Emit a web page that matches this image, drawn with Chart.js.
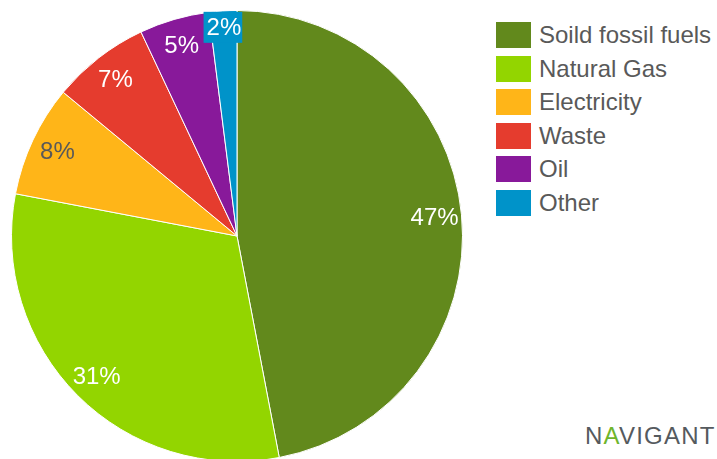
<!DOCTYPE html>
<html>
<head>
<meta charset="utf-8">
<script src="https://cdn.jsdelivr.net/npm/chart.js@4"></script>
<style>
  html, body { margin: 0; padding: 0; background: #fff; }
  #wrap { position: relative; width: 717px; height: 459px; overflow: hidden; font-family: "Liberation Sans", Arial, sans-serif; }
  #pieBox { position: absolute; left: 0; top: 0; width: 474px; height: 472px; }
  #legend { position: absolute; left: 496px; top: 22px; }
  .item { display: flex; align-items: center; height: 26px; margin-bottom: 7.6px; }
  .swatch { width: 35px; height: 26px; margin-right: 8px; }
  .label { font-size: 24px; color: #595959; white-space: nowrap; }
  #logo { position: absolute; left: 585px; top: 422px; font-size: 24px; letter-spacing: 1.2px; color: #555a5e; font-family: "Liberation Sans", Arial, sans-serif; }
  #logo .a { color: #6fb52c; }
</style>
</head>
<body>
<div id="wrap">
  <div id="pieBox"><canvas id="pie"></canvas></div>
  <div id="legend"></div>
  <div id="logo">N<span class="a">A</span>VIGANT</div>
</div>
<script>
const categories = ["Soild fossil fuels", "Natural Gas", "Electricity", "Waste", "Oil", "Other"];
const shares = [47, 31, 8, 7, 5, 2];
const sliceColors = ["#62891c", "#93d500", "#ffb518", "#e53c2e", "#88199a", "#0093c9"];
const labelColors = ["#ffffff", "#ffffff", "#595959", "#ffffff", "#ffffff", "#ffffff"];

// legend
const legend = document.getElementById("legend");
categories.forEach((c, i) => {
    legend.innerHTML += `<div class="item"><div class="swatch" style="background:${sliceColors[i]}"></div><span class="label">${c}</span></div>`;
});

// percent labels inside slices
const sliceLabels = {
    id: "sliceLabels",
    afterDatasetsDraw(chart) {
        const ctx = chart.ctx;
        const meta = chart.getDatasetMeta(0);
        ctx.save();
        ctx.font = '24px "Liberation Sans", Arial, sans-serif';
        ctx.textAlign = "center";
        ctx.textBaseline = "middle";
        meta.data.forEach((arc, i) => {
            const mid = (arc.startAngle + arc.endAngle) / 2;
            const small = shares[i] < 3;
            const r = arc.outerRadius * (small ? 0.925 : 0.88);
            const x = arc.x + Math.cos(mid) * r;
            const y = arc.y + Math.sin(mid) * r;
            const txt = shares[i] + "%";
            if (small) {
                const w = ctx.measureText(txt).width + 4;
                ctx.fillStyle = sliceColors[i];
                ctx.fillRect(x - w / 2 - 1, y - 16, w, 31);
            }
            ctx.fillStyle = labelColors[i];
            ctx.fillText(txt, x, y + 1);
        });
        ctx.restore();
    }
};

new Chart(document.getElementById("pie"), {
    type: "pie",
    data: {
        labels: categories,
        datasets: [{ data: shares, backgroundColor: sliceColors, borderColor: "#ffffff", borderWidth: 1 }]
    },
    options: {
        responsive: true,
        maintainAspectRatio: false,
        animation: false,
        layout: { padding: { left: 11, right: 11, top: 10, bottom: 10 } },
        plugins: { legend: { display: false }, tooltip: { enabled: false } }
    },
    plugins: [sliceLabels]
});
</script>
</body>
</html>
